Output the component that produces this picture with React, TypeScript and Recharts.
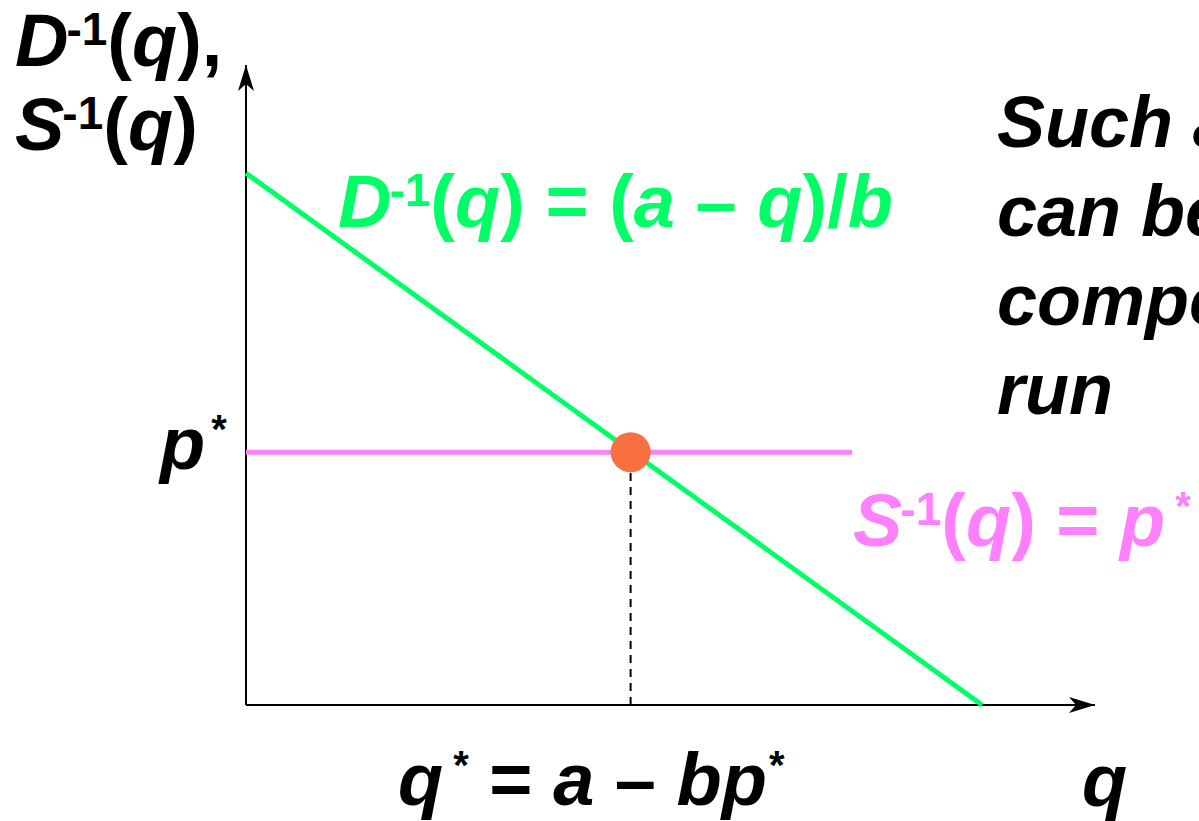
import {
  ComposedChart,
  Line,
  ReferenceLine,
  Scatter,
  XAxis,
  YAxis,
} from "recharts";

// quantity / price axes run 0..100 in chart units
const axisMax = [100, 100];
const demandLine = [
  { q: 0, price: 83.1 },
  { q: 86.7, price: 0 },
];
const supplyLine = [
  { q: 0, price: 39.5 },
  { q: 71.4, price: 39.5 },
];
const equilibrium = [{ q: 45.3, price: 39.5 }];
const arrowTips = [
  { q: 100, price: 0, dir: "right" },
  { q: 0, price: 100, dir: "up" },
];
const sideNote = ["Such a market", "can be", "competitive in the long", "run"];

const GREEN = "#00FF66";
const PINK = "#FF80FF";
const ORANGE = "#F97040";
const FONT = "'Liberation Sans', Arial, sans-serif";
const BIG = 74;
const SUP = 46;
const STAR = 40;

const Arrow = (props: { cx?: number; cy?: number; payload?: { dir: string } }) => {
  const { cx = 0, cy = 0, payload } = props;
  if (!payload) return null;
  const d =
    payload.dir === "right"
      ? `M${cx},${cy} L${cx - 26},${cy - 8} L${cx - 19},${cy} L${cx - 26},${cy + 8} Z`
      : `M${cx},${cy} L${cx - 8},${cy + 26} L${cx},${cy + 19} L${cx + 8},${cy + 26} Z`;
  return <path d={d} fill="#000" />;
};

const Dot = (props: { cx?: number; cy?: number }) => {
  const { cx = 0, cy = 0 } = props;
  return <circle cx={cx} cy={cy} r={20} fill={ORANGE} />;
};

const I = ({ children }: { children: string }) => <tspan fontStyle="italic">{children}</tspan>;

// "X⁻¹(" with the superscript tucked against the letter
const Inv = ({ letter }: { letter: string }) => (
  <>
    <I>{letter}</I>
    <tspan fontSize={SUP} dx={-2} dy={-21}>-1</tspan>
    <tspan dy={21}>(</tspan>
  </>
);

export default function App() {
  return (
    <div
      style={{
        position: "fixed",
        left: 0,
        top: 0,
        width: 1199,
        height: 821,
        overflow: "hidden",
        background: "#fff",
      }}
    >
      <ComposedChart
        width={1199}
        height={821}
        margin={{ top: 65, right: 104, bottom: 116, left: 246 }}
      >
        <XAxis type="number" dataKey="q" domain={[0, axisMax[0]]} hide />
        <YAxis type="number" dataKey="price" domain={[0, axisMax[1]]} hide />
        <ReferenceLine
          segment={[{ x: 0, y: 0 }, { x: axisMax[0], y: 0 }]}
          stroke="#000"
          strokeWidth={2}
        />
        <ReferenceLine
          segment={[{ x: 0, y: 0 }, { x: 0, y: axisMax[1] }]}
          stroke="#000"
          strokeWidth={2}
        />
        <ReferenceLine
          segment={[
            { x: equilibrium[0].q, y: 0 },
            { x: equilibrium[0].q, y: equilibrium[0].price },
          ]}
          stroke="#000"
          strokeWidth={2}
          strokeDasharray="8 6"
        />
        <Line
          data={supplyLine}
          dataKey="price"
          stroke={PINK}
          strokeWidth={5}
          dot={false}
          isAnimationActive={false}
        />
        <Line
          data={demandLine}
          dataKey="price"
          stroke={GREEN}
          strokeWidth={5}
          dot={false}
          isAnimationActive={false}
        />
        <Scatter data={equilibrium} dataKey="price" shape={<Dot />} isAnimationActive={false} />
        <Scatter data={arrowTips} dataKey="price" shape={<Arrow />} isAnimationActive={false} />
      </ComposedChart>

      <svg
        width={1199}
        height={821}
        style={{ position: "absolute", left: 0, top: 0, pointerEvents: "none" }}
        fontFamily={FONT}
        fontWeight="bold"
      >
        <text x={15} y={66} fontSize={BIG} fill="#000">
          <Inv letter="D" />
          <I>q</I>),
        </text>
        <text x={15} y={150} fontSize={BIG} fill="#000">
          <Inv letter="S" />
          <I>q</I>)
        </text>

        <text x={338} y={227} fontSize={BIG} fill={GREEN}>
          <Inv letter="D" />
          <I>q</I>) = (<I>a</I> – <I>q</I>)/<I>b</I>
        </text>

        <text x={853} y={546} fontSize={BIG} fill={PINK}>
          <Inv letter="S" />
          <I>q</I>) = <I>p</I>
          <tspan fontSize={STAR} dx={10} dy={-26}>*</tspan>
        </text>

        <text x={160} y={469} fontSize={BIG} fill="#000">
          <I>p</I>
          <tspan fontSize={STAR} dx={6} dy={-26}>*</tspan>
        </text>

        <text x={398} y={805} fontSize={BIG} fill="#000">
          <I>q</I>
          <tspan fontSize={STAR} dx={10} dy={-26}>*</tspan>
          <tspan dy={26}> = </tspan>
          <I>a</I> – <I>bp</I>
          <tspan fontSize={STAR} dx={2} dy={-26}>*</tspan>
        </text>

        <text x={1082} y={806} fontSize={BIG} fill="#000">
          <I>q</I>
        </text>

        {sideNote.map((line, i) => (
          <text
            key={line}
            x={997}
            y={147 + i * 89}
            fontSize={72}
            fontStyle="italic"
            fill="#000"
          >
            {line}
          </text>
        ))}
      </svg>
    </div>
  );
}
